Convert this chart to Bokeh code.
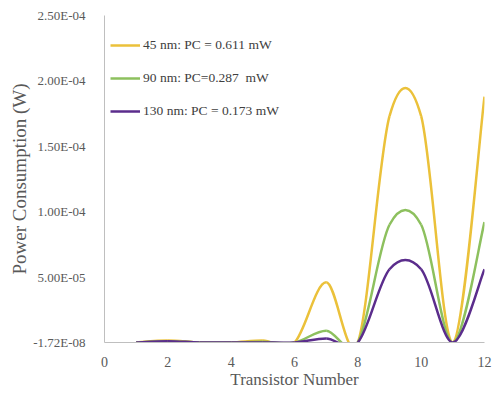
from bokeh.plotting import figure
from bokeh.models import ColumnDataSource, FixedTicker, Range1d, Legend, LegendItem
from bokeh.embed import file_html
from bokeh.resources import INLINE

transistors = [1, 2, 3, 4, 5, 6, 7, 8, 9, 10, 11, 12]
pc_45nm = [0.0, 1.5e-6, 0.0, 0.0, 1.5e-6, 0.0, 4.6e-5, 0.0, 1.73e-4, 1.73e-4, 0.0, 1.88e-4]
pc_90nm = [0.0, 1.0e-6, 0.0, 0.0, 0.5e-6, 0.0, 9.0e-6, 0.0, 9.0e-5, 9.0e-5, 0.0, 9.2e-5]
pc_130nm = [0.0, 1.0e-6, 0.0, 0.0, 0.0, 0.0, 3.0e-6, 0.0, 5.6e-5, 5.6e-5, 0.0, 5.6e-5]
series_labels = ["45 nm: PC = 0.611 mW", "90 nm: PC=0.287  mW", "130 nm: PC = 0.173 mW"]
series_colors = ["#EBC13A", "#8DC05E", "#5B2D8C"]
y_ticks = [-1.72e-8, 5e-5, 1e-4, 1.5e-4, 2e-4, 2.5e-4]
y_tick_labels = ["-1.72E-08", "5.00E-05", "1.00E-04", "1.50E-04", "2.00E-04", "2.50E-04"]
x_ticks = [0, 2, 4, 6, 8, 10, 12]

def smooth_segments(xs, ys):
    # Catmull-Rom style cubic Bezier control points (Excel-like smoothing)
    n = len(xs)
    d = dict(x0=[], y0=[], x1=[], y1=[], cx0=[], cy0=[], cx1=[], cy1=[])
    for i in range(n - 1):
        xa, ya = xs[max(i - 1, 0)], ys[max(i - 1, 0)]
        x1, y1 = xs[i], ys[i]
        x2, y2 = xs[i + 1], ys[i + 1]
        xb, yb = xs[min(i + 2, n - 1)], ys[min(i + 2, n - 1)]
        d["x0"].append(x1); d["y0"].append(y1)
        d["x1"].append(x2); d["y1"].append(y2)
        d["cx0"].append(x1 + (x2 - xa) / 6.0); d["cy0"].append(y1 + (y2 - ya) / 6.0)
        d["cx1"].append(x2 - (xb - x1) / 6.0); d["cy1"].append(y2 - (yb - y1) / 6.0)
    return ColumnDataSource(d)

p = figure(width=497, height=394, output_backend="svg", toolbar_location=None,
           x_range=Range1d(0, 12), y_range=Range1d(-1.72e-8, 2.5e-4),
           min_border_left=104, min_border_right=13, min_border_top=15, min_border_bottom=52)
p.outline_line_color = None
p.xgrid.visible = False
p.ygrid.visible = False

font = "Liberation Serif"
label_col = "#595959"

items = []
for ys, lab, col in zip([pc_45nm, pc_90nm, pc_130nm], series_labels, series_colors):
    src = smooth_segments(transistors, ys)
    r = p.bezier(x0="x0", y0="y0", x1="x1", y1="y1", cx0="cx0", cy0="cy0", cx1="cx1", cy1="cy1",
                 source=src, line_color=col, line_width=2.5)
    items.append(LegendItem(label=lab, renderers=[r]))

legend = Legend(items=items, location=(6, 221), background_fill_alpha=0, border_line_color=None,
                label_text_font=font, label_text_font_size="13.5px", label_text_color="#404040",
                glyph_width=30, glyph_height=20, spacing=13, label_standoff=3,
                margin=0, padding=0)
p.add_layout(legend)

p.xaxis.ticker = FixedTicker(ticks=x_ticks)
p.yaxis.ticker = FixedTicker(ticks=y_ticks)
p.yaxis.major_label_overrides = {t: l for t, l in zip(y_ticks, y_tick_labels)}
for ax in (p.xaxis, p.yaxis):
    ax.axis_line_color = "#BFBFBF"
    ax.major_tick_line_color = None
    ax.minor_tick_line_color = None
    ax.major_label_text_font = font
    ax.major_label_text_color = label_col
    ax.axis_label_text_font = font
    ax.axis_label_text_font_style = "normal"
    ax.axis_label_text_color = label_col
p.xaxis.major_label_text_font_size = "14px"
p.yaxis.major_label_text_font_size = "13px"
p.xaxis.axis_label = "Transistor Number"
p.yaxis.axis_label = "Power Consumption (W)"
p.xaxis.axis_label_text_font_size = "17px"
p.yaxis.axis_label_text_font_size = "19px"
p.xaxis.major_label_standoff = 8
p.yaxis.major_label_standoff = 13
p.xaxis.axis_label_standoff = 0
p.yaxis.axis_label_standoff = 0

open("out.html", "w").write(file_html(p, INLINE))
